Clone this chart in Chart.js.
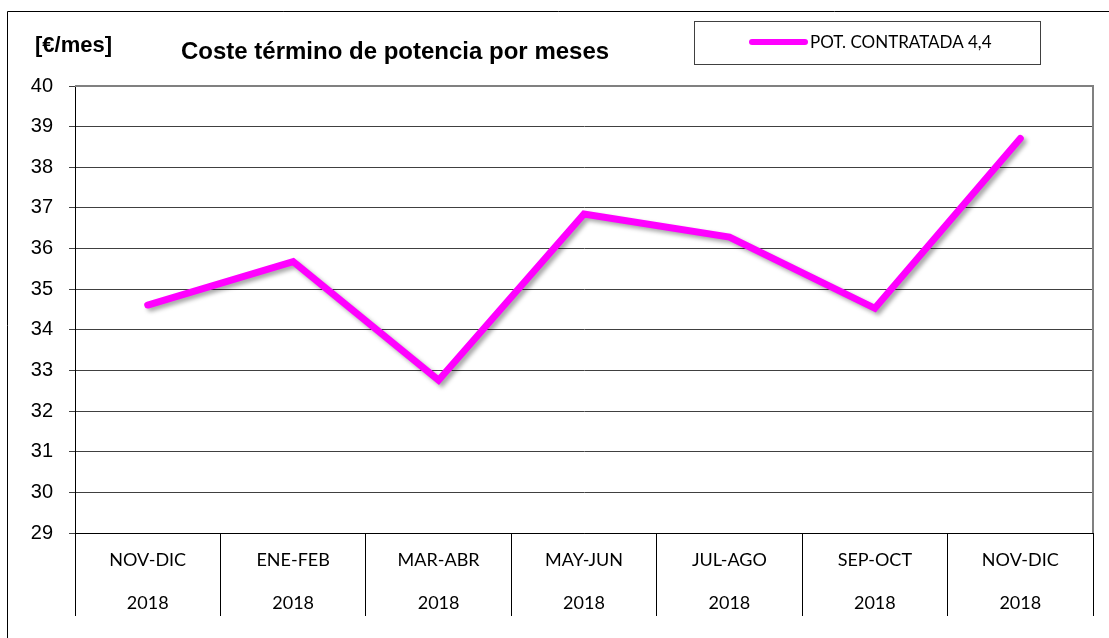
<!DOCTYPE html>
<html>
<head>
<meta charset="utf-8">
<script src="https://cdn.jsdelivr.net/npm/chart.js@4/dist/chart.umd.min.js"></script>
<style>
  body { margin: 0; background: #fff; }
  canvas { display: block; }
</style>
</head>
<body>
<canvas id="chart" width="1109" height="638"></canvas>
<script>
// datos del grafico
const periods = ["NOV-DIC", "ENE-FEB", "MAR-ABR", "MAY-JUN", "JUL-AGO", "SEP-OCT", "NOV-DIC"];
const years = ["2018", "2018", "2018", "2018", "2018", "2018", "2018"];
const potencia = [34.61, 35.68, 32.76, 36.85, 36.28, 34.53, 38.71];
const seriesName = "POT. CONTRATADA 4,4";
const yTicks = [29, 30, 31, 32, 33, 34, 35, 36, 37, 38, 39, 40];

const labels = periods.map((p, i) => [p, years[i]]);

// sombra bajo la linea
const shadowPlugin = {
  id: "lineShadow",
  beforeDatasetsDraw(chart) {
    const ctx = chart.ctx;
    ctx.save();
    ctx.shadowColor = "rgba(0,0,0,0.35)";
    ctx.shadowOffsetX = 3;
    ctx.shadowOffsetY = 3;
    ctx.shadowBlur = 4;
  },
  afterDatasetsDraw(chart) {
    chart.ctx.restore();
  },
};

// marco, titulos y leyenda
const decoPlugin = {
  id: "deco",
  afterDraw(chart) {
    const ctx = chart.ctx;
    const area = chart.chartArea;
    ctx.save();

    // marco exterior
    ctx.strokeStyle = "#000";
    ctx.lineWidth = 1;
    ctx.beginPath();
    ctx.moveTo(7.5, 700);
    ctx.lineTo(7.5, 11.5);
    ctx.lineTo(1200, 11.5);
    ctx.stroke();

    // borde del area de trazado (arriba y derecha en gris)
    ctx.strokeStyle = "#808080";
    ctx.lineWidth = 2;
    ctx.beginPath();
    ctx.moveTo(area.left, area.top);
    ctx.lineTo(area.right, area.top);
    ctx.lineTo(area.right, area.bottom);
    ctx.stroke();

    // textos
    ctx.fillStyle = "#000";
    ctx.textBaseline = "middle";
    ctx.textAlign = "left";
    ctx.font = "bold 22px 'Liberation Sans', Arial, sans-serif";
    ctx.fillText("[€/mes]", 35, 46);
    ctx.font = "bold 24px 'Liberation Sans', Arial, sans-serif";
    ctx.fillText("Coste término de potencia por meses", 181, 52);

    // leyenda
    ctx.strokeStyle = "#404040";
    ctx.lineWidth = 1;
    ctx.strokeRect(694.5, 21.5, 346, 43);
    ctx.strokeStyle = chart.data.datasets[0].borderColor;
    ctx.lineWidth = 6;
    ctx.lineCap = "round";
    ctx.beginPath();
    ctx.moveTo(752, 42);
    ctx.lineTo(805, 42);
    ctx.stroke();
    ctx.font = "17px Lato, sans-serif";
    ctx.fillText(chart.data.datasets[0].label, 810, 43);

    ctx.restore();
  },
};

new Chart(document.getElementById("chart"), {
  type: "line",
  data: {
    labels,
    datasets: [
      {
        label: seriesName,
        data: potencia,
        borderColor: "#FF00FF",
        borderWidth: 7,
        borderCapStyle: "round",
        borderJoinStyle: "miter",
        pointRadius: 0,
        tension: 0,
        fill: false,
      },
    ],
  },
  options: {
    responsive: false,
    animation: false,
    layout: { padding: { left: 10, right: 16, top: 86, bottom: 22 } },
    plugins: {
      legend: { display: false },
      title: { display: false },
      tooltip: { enabled: false },
    },
    scales: {
      x: {
        offset: true,
        grid: {
          offset: true,
          drawOnChartArea: false,
          tickLength: 83,
          color: "#000",
        },
        border: { color: "#000" },
        ticks: {
          padding: -77,
          color: "#000",
          font: { family: "Lato, sans-serif", size: 18, lineHeight: 2.39 },
          maxRotation: 0,
          autoSkip: false,
        },
        afterFit(scale) {
          scale.height = 83;
        },
      },
      y: {
        min: 29,
        max: 40,
        afterBuildTicks(scale) {
          scale.ticks = yTicks.map((v) => ({ value: v }));
        },
        grid: { color: "#404040", tickLength: 6 },
        border: { color: "#000" },
        ticks: {
          padding: 16,
          color: "#000",
          font: { family: "'Liberation Sans', Arial, sans-serif", size: 20 },
        },
        afterFit(scale) {
          scale.width = 65;
        },
      },
    },
  },
  plugins: [shadowPlugin, decoPlugin],
});
</script>
</body>
</html>
